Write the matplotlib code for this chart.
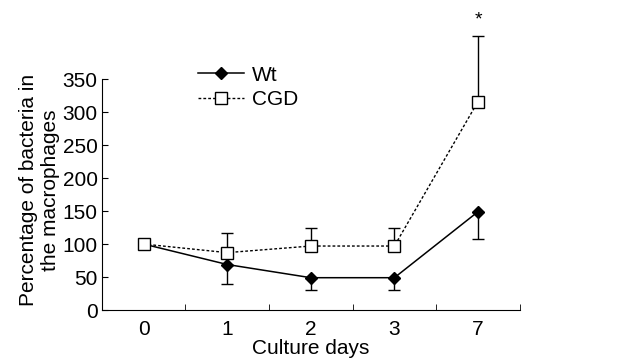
import matplotlib
matplotlib.use("Agg")
import matplotlib.pyplot as plt
import numpy as np

plt.rcParams['font.family'] = ['Liberation Sans', 'DejaVu Sans']

days = ["0", "1", "2", "3", "7"]
wt = [100, 69, 49, 49, 149]
wt_err_low = [0, 30, 19, 19, 41]
cgd = [100, 87, 97, 97, 316]
cgd_err_up = [0, 29, 28, 28, 100]
star_value = 440

fig = plt.figure(figsize=(6.21, 3.58), dpi=100)
ax = fig.add_axes([0.164, 0.134, 0.673, 0.645])
x = np.arange(len(days))

ax.errorbar(x, wt, yerr=[wt_err_low, [0]*len(wt)], fmt='none', ecolor='black',
            elinewidth=1, capsize=4.5, capthick=1, clip_on=False, zorder=2)
ax.errorbar(x, cgd, yerr=[[0]*len(cgd), cgd_err_up], fmt='none', ecolor='black',
            elinewidth=1, capsize=4.5, capthick=1, clip_on=False, zorder=2)
ax.plot(x, wt, '-', color='black', lw=1.1, marker='D', markersize=6,
        markerfacecolor='black', label='Wt', clip_on=False, zorder=3)
ax.plot(x, cgd, linestyle=(0, (2, 1.5)), color='black', lw=1.0, marker='s', markersize=8,
        markerfacecolor='white', markeredgewidth=1, label='CGD', clip_on=False, zorder=4)
ax.text(x[-1], star_value, '*', ha='center', va='center', fontsize=14)

ax.set_xlim(-0.5, 4.5)
ax.set_ylim(0, 350)
ax.set_yticks(np.arange(0, 351, 50))
ax.set_xticks(x)
ax.set_xticklabels(days)
ax.set_xticks(np.arange(0.5, 4.6, 1), minor=True)
ax.tick_params(axis='x', which='major', length=0, labelsize=15, pad=7)
ax.tick_params(axis='x', which='minor', length=4, direction='in')
ax.tick_params(axis='y', length=4, direction='in', labelsize=15, pad=3)
for s in ['top', 'right']:
    ax.spines[s].set_visible(False)
ax.set_xlabel('Culture days', fontsize=15, labelpad=0)
ax.set_ylabel('Percentage of bacteria in\nthe macrophages', fontsize=15, linespacing=1.2)
ax.yaxis.set_label_coords(-0.1, 0.52)

ax.legend(loc='upper left', bbox_to_anchor=(0.305, 0.84), bbox_transform=fig.transFigure,
          frameon=False, fontsize=15, handlelength=2.2, handletextpad=0.4, labelspacing=0.25,
          borderaxespad=0)

fig.savefig('out.png', dpi=100)
